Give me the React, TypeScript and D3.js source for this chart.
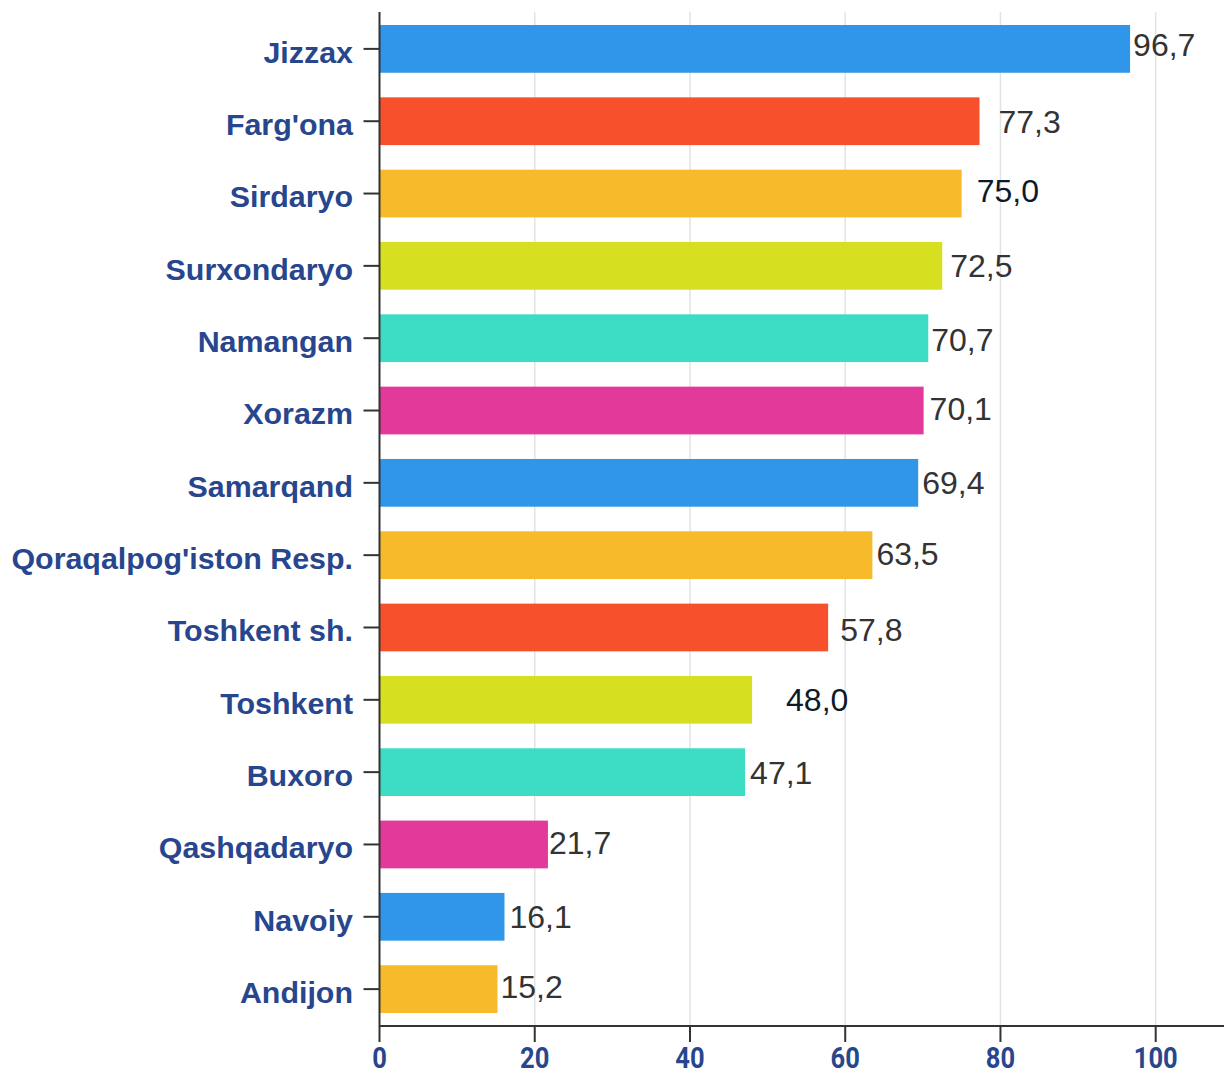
import React from "react";
import * as d3 from "d3";

const categories = [
  "Jizzax",
  "Farg'ona",
  "Sirdaryo",
  "Surxondaryo",
  "Namangan",
  "Xorazm",
  "Samarqand",
  "Qoraqalpog'iston Resp.",
  "Toshkent sh.",
  "Toshkent",
  "Buxoro",
  "Qashqadaryo",
  "Navoiy",
  "Andijon",
];
const values = [96.7, 77.3, 75.0, 72.5, 70.7, 70.1, 69.4, 63.5, 57.8, 48.0, 47.1, 21.7, 16.1, 15.2];
const valueLabels = ["96,7", "77,3", "75,0", "72,5", "70,7", "70,1", "69,4", "63,5", "57,8", "48,0", "47,1", "21,7", "16,1", "15,2"];
const xTicks = [0, 20, 40, 60, 80, 100];
const xMax = 108.8;

const palette = ["#3096E9", "#F6502C", "#F6BA2B", "#D6E021", "#3CDDC4", "#E2399A"];
const barColorIndex = [0, 1, 2, 3, 4, 5, 0, 2, 1, 3, 4, 5, 0, 2];
// hand-placed label nudges as in the reference
const labelDx = [3, 19, 15, 8, 3, 6, 4, 4, 12, 34, 5, 1, 5, 3];
const labelDy = [-4, 0, -3, 0, 1, -2, 0, -2, 2, 0, 0, -2, 0, -3];
const labelDark = [false, false, true, false, false, false, false, false, false, true, false, false, false, false];

const W = 1224;
const H = 1071;
const left = 379.5;
const top = 12;
const bottom = 1026;

export default function App() {
  const x = d3.scaleLinear().domain([0, xMax]).range([left, W]);
  const y = d3
    .scaleBand<string>()
    .domain(categories)
    .range([top, bottom])
    .paddingInner(0.34)
    .paddingOuter(0.18);
  const bw = y.bandwidth();
  const catColor = "#27468E";

  return (
    <svg
      width={W}
      height={H}
      style={{ position: "absolute", left: 0, top: 0, background: "#fff" }}
      fontFamily="'Liberation Sans', Arial, sans-serif"
    >
      {/* grid */}
      {xTicks.slice(1).map((t) => (
        <line key={"g" + t} x1={x(t)} x2={x(t)} y1={top} y2={bottom} stroke="#e3e3e3" strokeWidth={1.5} />
      ))}
      {/* bars */}
      {categories.map((c, i) => (
        <rect
          key={c}
          x={x(0)}
          y={y(c)!}
          width={x(values[i]) - x(0)}
          height={bw}
          fill={palette[barColorIndex[i]]}
        />
      ))}
      {/* value labels */}
      {categories.map((c, i) => (
        <text
          key={"v" + c}
          x={x(values[i]) + labelDx[i]}
          y={y(c)! + bw / 2 + labelDy[i]}
          dy="0.36em"
          fontSize={32}
          fill={labelDark[i] ? "#0c1a2c" : "#333333"}
        >
          {valueLabels[i]}
        </text>
      ))}
      {/* y axis */}
      <line x1={left} x2={left} y1={top} y2={bottom} stroke="#333" strokeWidth={2} />
      {categories.map((c) => (
        <g key={"yt" + c} transform={`translate(0,${y(c)! + bw / 2})`}>
          <line x1={left - 16} x2={left} stroke="#333" strokeWidth={2} />
          <text
            x={353}
            y={3}
            dy="0.36em"
            textAnchor="end"
            fontSize={30.4}
            fontWeight="bold"
            fill={catColor}
          >
            {c}
          </text>
        </g>
      ))}
      {/* x axis */}
      <line x1={left} x2={W} y1={bottom} y2={bottom} stroke="#333" strokeWidth={2} />
      {xTicks.map((t) => (
        <g key={"xt" + t} transform={`translate(${x(t)},${bottom})`}>
          <line y1={0} y2={16} stroke="#333" strokeWidth={2} />
          <g transform="translate(0,42) scale(0.88,1)">
            <text
              textAnchor="middle"
              fontSize={29}
              fontWeight="bold"
              fill={catColor}
              fontFamily="Roboto, 'Liberation Sans', sans-serif"
            >
              {t}
            </text>
          </g>
        </g>
      ))}
    </svg>
  );
}
